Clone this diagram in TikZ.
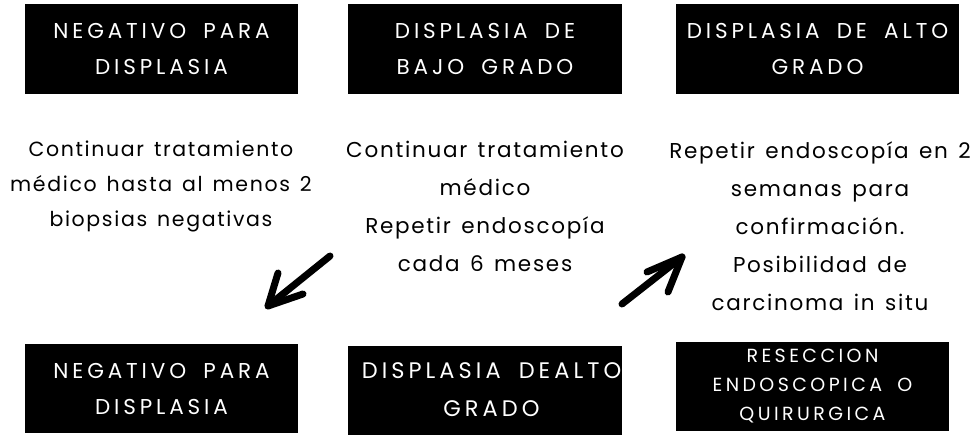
\documentclass[tikz,border=0pt]{standalone}
\usepackage{fontspec}
\setmainfont{Poppins}
\newfontfamily\capsfont[LetterSpace=18, WordSpace=1.8]{Poppins}
\newfontfamily\notefont[LetterSpace=8, WordSpace=1.4]{Poppins}
\usetikzlibrary{arrows}

\begin{document}
\begin{tikzpicture}[x=1pt, y=-1pt,
  box/.style={fill=black, text=white, align=center, inner sep=0pt,
    minimum height=90pt, font=\capsfont\fontsize{21.5}{36}\selectfont},
  note/.style={align=center, inner sep=0pt, anchor=north,
    font=\notefont\fontsize{21.5}{38}\selectfont},
  brush/.style={line width=7pt, line cap=round, line join=round}]
\useasboundingbox (0,0) rectangle (979,434);

% Top row of boxes
\node[box, minimum width=273pt] (negTop) at (161.5,49) {NEGATIVO PARA\\DISPLASIA};
\node[box, minimum width=274pt] (bajo) at (485,49) {DISPLASIA DE\\BAJO GRADO};
\node[box, minimum width=283pt] (altoTop) at (817.5,49) {DISPLASIA DE ALTO\\GRADO};

% Middle texts
\node[note, font=\notefont\fontsize{20.5}{35}\selectfont] (negText) at (161,141) {Continuar tratamiento\\médico hasta al menos 2\\biopsias negativas};
\node[note] (bajoText) at (485,141) {Continuar tratamiento\\médico\\Repetir endoscopía\\cada 6 meses};
\node[note] (altoText) at (820,141) {Repetir endoscopía en 2\\semanas para\\confirmación.\\Posibilidad de\\carcinoma in situ};

% Bottom row of boxes
\node[box, minimum width=273pt, minimum height=89pt] (negBot) at (161.5,388.5) {NEGATIVO PARA\\DISPLASIA};
\node[box, minimum width=274pt, minimum height=89pt, font=\capsfont\fontsize{22.5}{38}\selectfont] (altoBot) at (485,390) {\hspace*{13pt}DISPLASIA DEALTO\\\hspace*{13pt}GRADO};
\node[box, minimum width=273pt, minimum height=89pt, font=\capsfont\fontsize{19}{29}\selectfont] (resec) at (812.5,386) {RESECCION\\ENDOSCOPICA O\\QUIRURGICA};

% Brush arrows
\coordinate (downTail) at (330,256);
\coordinate (downTip) at (268,306);
\coordinate (downBarbA) at (278,273);
\coordinate (downBarbB) at (303,294);
\draw[brush] (downTail) -- (downTip);
\draw[brush] (downBarbA) -- (downTip) -- (downBarbB);

\coordinate (upTail) at (622,304);
\coordinate (upTip) at (682,257);
\coordinate (upBarbA) at (647,272);
\coordinate (upBarbB) at (668,292);
\draw[brush] (upTail) -- (upTip);
\draw[brush] (upBarbA) -- (upTip) -- (upBarbB);
\end{tikzpicture}
\end{document}
